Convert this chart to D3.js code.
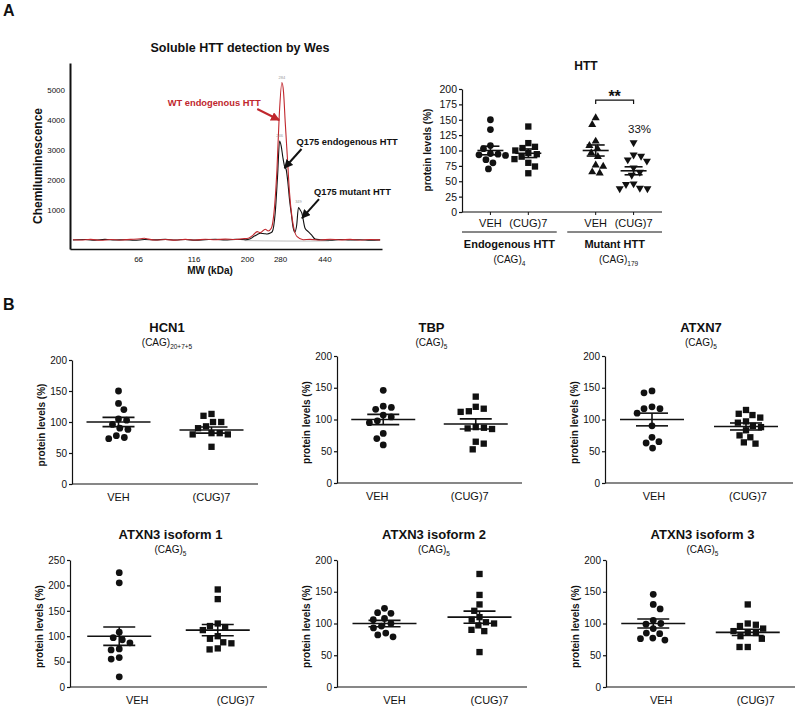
<!DOCTYPE html>
<html><head><meta charset="utf-8">
<script src="https://cdn.jsdelivr.net/npm/d3@7"></script>
<style>
body{margin:0;background:#fff}
text{font-family:"Liberation Sans",Arial,sans-serif;fill:#111}
</style>
</head><body>
<svg id="c" width="800" height="708"></svg>
<script>
// ---------------- DATA ----------------
// Panel A, Wes electropherogram (MW kDa, chemiluminescence)
const wesXTicks = [66, 116, 200, 280, 440];
const wesYTicks = [1000, 2000, 3000, 4000, 5000];
const wtTrace = [[34,10],[36.7,0],[40.7,20],[45,-10],[49.9,15],[55.2,0],[61,20],[67.6,40],[70.4,60],[73.3,30],[78.7,0],[87.1,15],[96.4,-5],[106.7,20],[118,0],[130.8,25],[144.8,10],[160.3,30],[177.5,15],[190.6,40],[202.6,60],[213.2,170],[221.9,280],[228.8,245],[240.8,360],[248.2,300],[256,390],[262,780],[271.2,2350],[277.6,4140],[285.2,5250],[290,4930],[295,3930],[301.9,2690],[308.2,1580],[315.8,780],[323,350],[333,110],[354,10],[380,20],[421,0],[466,25],[516,5],[571,20],[632,0],[700,15],[775,5]];
const q175Trace = [[34,0],[38.6,15],[42.6,-5],[47.1,20],[52.1,0],[57.6,10],[63.6,-10],[70.4,15],[78.7,5],[87.1,20],[96.4,0],[106.7,15],[118,-5],[130.8,10],[144.8,25],[160.3,0],[177.5,20],[197,10],[207,40],[213.2,110],[221.9,180],[228.8,225],[238.4,210],[245.6,200],[253.5,230],[258.7,280],[266.4,900],[272.9,2130],[278.6,3300],[283.2,3130],[288.1,2750],[292.9,2460],[297.9,2350],[303.2,1910],[308.2,1340],[313.6,900],[320,400],[324.9,260],[331.6,500],[337.6,1085],[343.4,1000],[349.3,900],[361,390],[372.9,280],[385.5,170],[400,30],[421,10],[466,-5],[516,15],[571,0],[632,10],[700,-5],[775,5]];
const wesBaseline = [[195,-20],[240,-30],[300,-35],[380,-35],[460,-30]];
const wesPeakLabels = [["284",285.2,5250],["246",278.6,3300],["349",337.6,1085]];
const wesAnnotations = [
  {text:"WT endogenous HTT", mw:277.6, v:4000, color:"#c0272d"},
  {text:"Q175 endogenous HTT", mw:292.9, v:2400, color:"#111"},
  {text:"Q175 mutant HTT", mw:350, v:730, color:"#111"}
];

// Panel A, HTT dot plot
const httGroups = ["Endogenous HTT", "Mutant HTT"];
const httGroupRepeats = ["4", "179"];
const httCategories = ["VEH", "(CUG)7"];
const httEndoVEH = [150, 134, 108, 103, 95, 94, 93, 92, 85, 80, 70];
const httEndoCUG = [139, 112, 106, 104, 100, 96, 94, 90, 86, 80, 74, 63];
const httMutVEH  = [153, 142, 115, 108, 103, 96, 90, 76, 74, 65, 63];
const httMutCUG  = [113, 93, 91, 85, 83, 72, 65, 60, 46, 45, 39, 38, 38];
const httMeans = [100, 95.5, 100, 67];
const httSEMs  = [7, 7, 9, 6.5];
const httYTicks = [0, 25, 50, 75, 100, 125, 150, 175, 200];

// Panel B
const bNames   = ["HCN1", "TBP", "ATXN7", "ATXN3 isoform 1", "ATXN3 isoform 2", "ATXN3 isoform 3"];
const bRepeats = ["20+7+5", "5", "5", "5", "5", "5"];
const bYMax    = [200, 200, 200, 250, 200, 200];
const bCategories = ["VEH", "(CUG)7"];
const hcn1VEH  = [150, 130, 120, 105, 103, 96, 90, 88, 78, 75, 73];
const hcn1CUG  = [113, 110, 100, 100, 93, 90, 82, 82, 80, 80, 60];
const tbpVEH   = [146, 121, 119, 116, 107, 104, 98, 95, 78, 70, 60];
const tbpCUG   = [136, 120, 117, 113, 112, 88, 87, 86, 85, 65, 62, 53];
const atxn7VEH = [145, 142, 120, 117, 117, 110, 90, 72, 65, 63, 55];
const atxn7CUG = [115, 109, 107, 103, 97, 95, 90, 88, 83, 75, 72, 64, 62];
const iso1VEH  = [225, 205, 108, 97, 93, 87, 75, 73, 58, 55, 20];
const iso1CUG  = [192, 173, 125, 120, 118, 112, 100, 95, 88, 86, 76, 74];
const iso2VEH  = [124, 117, 116, 108, 106, 100, 96, 93, 85, 82, 79];
const iso2CUG  = [178, 145, 130, 120, 110, 106, 102, 100, 97, 90, 88, 55];
const iso3VEH  = [146, 130, 123, 105, 100, 99, 92, 85, 84, 77, 76, 74];
const iso3CUG  = [130, 100, 98, 96, 92, 88, 86, 85, 80, 76, 63, 63];
const bMeans = [[100, 87], [100, 93], [100, 89], [100, 112], [100, 110], [100, 86]];
const bSEMs  = [[7.5, 5], [8, 8], [10, 5.5], [18, 11], [5, 9.5], [7, 5]];

// ---------------- DRAW ----------------
const svg = d3.select("#c");
const defs = svg.append("defs");
[["arrRed","#c0272d"],["arrBlk","#111"]].forEach(([id,c])=>{
  defs.append("marker").attr("id",id).attr("viewBox","0 0 10 10").attr("refX",9).attr("refY",5)
    .attr("markerWidth",9).attr("markerHeight",9).attr("markerUnits","userSpaceOnUse").attr("orient","auto")
    .append("path").attr("d","M0,0L10,5L0,10Z").attr("fill",c);
});

svg.append("text").attr("x",3).attr("y",16).style("font-size","16px").style("font-weight","bold").text("A");
svg.append("text").attr("x",3).attr("y",310).style("font-size","16px").style("font-weight","bold").text("B");

// ---- Wes chart ----
(function(){
  const x = d3.scaleLog().domain([33, 790]).range([70, 382]);
  const y = d3.scaleLinear().domain([-300, 5900]).range([249, 63]);
  const g = svg.append("g");
  g.append("text").attr("x",240).attr("y",52).attr("text-anchor","middle")
    .style("font-size","12.5px").style("font-weight","bold").text("Soluble HTT detection by Wes");
  const ya = g.append("g").attr("transform","translate(70,0)")
    .call(d3.axisLeft(y).tickValues(wesYTicks).tickFormat(d3.format("d")).tickSize(0).tickSizeOuter(0).tickPadding(5));
  ya.select(".domain").attr("stroke","#111").attr("stroke-width",2);
  ya.selectAll("text").style("font-size","8px").style("font-family","Liberation Sans, Arial").attr("fill","#222");
  const xa = g.append("g").attr("transform","translate(0,249)")
    .call(d3.axisBottom(x).tickValues(wesXTicks).tickFormat(d3.format("d")).tickSize(0).tickSizeOuter(0).tickPadding(7));
  xa.select(".domain").attr("stroke","#111").attr("stroke-width",1.5);
  xa.selectAll("text").style("font-size","8px").style("font-family","Liberation Sans, Arial").attr("fill","#222");
  g.append("text").attr("x",210).attr("y",274).attr("text-anchor","middle")
    .style("font-size","10px").style("font-weight","bold").text("MW (kDa)");
  g.append("text").attr("transform","translate(41.5,166) rotate(-90)").attr("text-anchor","middle")
    .style("font-size","12px").style("font-weight","bold").text("Chemiluminescence");

  const line = d3.line().x(d=>x(d[0])).y(d=>y(d[1])).curve(d3.curveMonotoneX);
  g.append("path").datum(wesBaseline).attr("d",line).attr("fill","none").attr("stroke","#aaa").attr("stroke-width",0.8);
  g.append("path").datum(q175Trace).attr("d",line).attr("fill","none").attr("stroke","#111").attr("stroke-width",1.1);
  g.append("path").datum(wtTrace).attr("d",line).attr("fill","none").attr("stroke","#c0272d").attr("stroke-width",1.1);
  wesPeakLabels.forEach(([t,mw,v])=>{
    g.append("text").attr("x",x(mw)).attr("y",y(v)-4).attr("text-anchor","middle")
      .style("font-size","4px").style("fill","#999").text(t);
  });
  const a0 = wesAnnotations[0];
  const tx0 = x(a0.mw), ty0 = y(a0.v);
  g.append("line").attr("x1",tx0-22).attr("y1",ty0-11).attr("x2",tx0).attr("y2",ty0)
    .attr("stroke",a0.color).attr("stroke-width",2).attr("marker-end","url(#arrRed)");
  g.append("text").attr("x",tx0-65).attr("y",ty0-14.5).attr("text-anchor","middle")
    .style("font-size","9.3px").style("font-weight","bold").style("fill",a0.color).text(a0.text);
  [wesAnnotations[1], wesAnnotations[2]].forEach(a=>{
    const tx = x(a.mw), ty = y(a.v);
    g.append("line").attr("x1",tx+17).attr("y1",ty-19).attr("x2",tx).attr("y2",ty)
      .attr("stroke",a.color).attr("stroke-width",2).attr("marker-end","url(#arrBlk)");
    g.append("text").attr("x",tx+12).attr("y",ty-23).style("font-size","9.3px").style("font-weight","bold").text(a.text);
  });
})();

// ---- helpers ----
function swarm(values, yS, D){
  const pts = values.map(v=>({v, y:yS(v)})).sort((a,b)=>b.v-a.v);
  const placed = [];
  pts.forEach((p,k)=>{
    const cands=[0];
    placed.forEach(q=>{
      const dy=Math.abs(q.y-p.y);
      if(dy<D){const dx=Math.sqrt(D*D-dy*dy); cands.push(q.x+dx+0.01, q.x-dx-0.01);}
    });
    const ok = cands.filter(c=>placed.every(q=>(q.x-c)**2+(q.y-p.y)**2 >= D*D-0.01));
    ok.sort((a,b)=>(Math.abs(a)-Math.abs(b)) || (k%2 ? a-b : b-a));
    p.x = ok[0];
    placed.push(p);
  });
  return placed;
}
const symbols = {
  circle: d3.symbol().type(d3.symbolCircle).size(36)(),
  square: d3.symbol().type(d3.symbolSquare).size(40)(),
  tri: d3.symbol().type(d3.symbolTriangle).size(28)()
};
function drawGroup(g, values, cx, yS, shape, mean, sem, mw, cw, D, rot){
  swarm(values, yS, D).forEach(p=>{
    g.append("path").attr("d", symbols[shape])
      .attr("transform",`translate(${cx+p.x},${p.y})${rot?" rotate(180)":""}`).attr("fill","#111");
  });
  const ln = (x1,y1,x2,y2)=>g.append("line").attr("x1",x1).attr("y1",y1).attr("x2",x2).attr("y2",y2)
    .attr("stroke","#111").attr("stroke-width",1.6);
  ln(cx-mw, yS(mean), cx+mw, yS(mean));
  ln(cx, yS(mean-sem), cx, yS(mean+sem));
  ln(cx-cw, yS(mean-sem), cx+cw, yS(mean-sem));
  ln(cx-cw, yS(mean+sem), cx+cw, yS(mean+sem));
}
function sub(textSel, main, subTxt, fs){
  textSel.text(null);
  textSel.append("tspan").text(main);
  textSel.append("tspan").attr("dy",3).style("font-size",fs+"px").text(subTxt);
}

// ---- HTT chart ----
(function(){
  const g = svg.append("g");
  const y = d3.scaleLinear().domain([0,200]).range([212,89]);
  const gx = d3.scaleBand().domain(httGroups).range([462,662]).paddingInner(0.1);
  const ix = d3.scalePoint().domain(httCategories).range([0,gx.bandwidth()]).padding(0.75);
  g.append("text").attr("x",586).attr("y",70).attr("text-anchor","middle")
    .style("font-size","12px").style("font-weight","bold").text("HTT");
  const ya = g.append("g").attr("transform","translate(462,0)")
    .call(d3.axisLeft(y).tickValues(httYTicks).tickSize(3).tickSizeOuter(0).tickPadding(2));
  ya.selectAll("path,line").attr("stroke","#111").attr("stroke-width",1.2);
  ya.selectAll("text").style("font-size","10.5px").style("font-family","Liberation Sans, Arial").attr("fill","#222");
  g.append("line").attr("x1",462).attr("x2",662).attr("y1",212).attr("y2",212).attr("stroke","#111").attr("stroke-width",1.2);
  g.append("text").attr("transform","translate(431,150) rotate(-90)").attr("text-anchor","middle")
    .style("font-size","10px").style("font-weight","bold").text("protein levels (%)");
  const sets = [[httEndoVEH,"circle",false],[httEndoCUG,"square",false],[httMutVEH,"tri",false],[httMutCUG,"tri",true]];
  let k=0;
  httGroups.forEach((grp,gi)=>{
    httCategories.forEach((cat,ci)=>{
      const cx = gx(grp)+ix(cat);
      const [vals,shape,rot] = sets[k];
      drawGroup(g, vals, cx, y, shape, httMeans[k], httSEMs[k], 13, 9, 7.6, rot);
      g.append("line").attr("x1",cx).attr("x2",cx).attr("y1",212).attr("y2",215).attr("stroke","#111");
      g.append("text").attr("x",cx).attr("y",227).attr("text-anchor","middle").style("font-size","11px").text(cat);
      k++;
    });
    const x0 = gx(grp), x1 = gx(grp)+gx.bandwidth();
    g.append("line").attr("x1",x0).attr("x2",x1).attr("y1",232).attr("y2",232).attr("stroke","#111").attr("stroke-width",1);
    g.append("text").attr("x",(x0+x1)/2).attr("y",247.5).attr("text-anchor","middle")
      .style("font-size","11px").style("font-weight","bold").text(grp);
    sub(g.append("text").attr("x",(x0+x1)/2+ (gi?4:0)).attr("y",263).attr("text-anchor","middle").style("font-size","10px"),
      "(CAG)", httGroupRepeats[gi], 6.5);
  });
  const xa = gx(httGroups[1])+ix(httCategories[0]), xb = gx(httGroups[1])+ix(httCategories[1]);
  const yb = y(182);
  g.append("path").attr("d",`M${xa},${yb+4}V${yb}H${xb}V${yb+4}`).attr("fill","none").attr("stroke","#111").attr("stroke-width",1.2);
  g.append("text").attr("x",(xa+xb)/2).attr("y",yb+2).attr("text-anchor","middle")
    .style("font-size","16px").style("font-weight","bold").text("**");
  g.append("text").attr("x",xb+6).attr("y",y(129)).attr("text-anchor","middle").style("font-size","11.5px").text("33%");
})();

// ---- Panel B ----
const bData = [[hcn1VEH,hcn1CUG],[tbpVEH,tbpCUG],[atxn7VEH,atxn7CUG],[iso1VEH,iso1CUG],[iso2VEH,iso2CUG],[iso3VEH,iso3CUG]];
const bLayout = [
  {x0:72, x1:258, top:360, bot:484, tY:331.5, sY:345.5, ldx:0},
  {x0:337, x1:522, top:356, bot:483, tY:331.5, sY:345.5, ldx:-6},
  {x0:605, x1:793, top:356, bot:483, tY:331.5, sY:345.5, ldx:2},
  {x0:70, x1:267, top:560, bot:687, tY:538.5, sY:552.5, ldx:18},
  {x0:337, x1:527, top:560, bot:687, tY:538.5, sY:552.5, ldx:10},
  {x0:606, x1:795, top:560, bot:687, tY:538.5, sY:552.5, ldx:8}
];
bNames.forEach((name,i)=>{
  const L = bLayout[i];
  const g = svg.append("g");
  const y = d3.scaleLinear().domain([0,bYMax[i]]).range([L.bot,L.top]);
  const x = d3.scalePoint().domain(bCategories).range([L.x0,L.x1]).padding(0.5);
  const mid = (L.x0+L.x1)/2+2;
  g.append("text").attr("x",mid).attr("y",L.tY).attr("text-anchor","middle")
    .style("font-size","13px").style("font-weight","bold").text(name);
  sub(g.append("text").attr("x",mid).attr("y",L.sY).attr("text-anchor","middle").style("font-size","10px"),
    "(CAG)", bRepeats[i], 6.5);
  const ya = g.append("g").attr("transform",`translate(${L.x0},0)`)
    .call(d3.axisLeft(y).tickValues(d3.range(0,bYMax[i]+1,50)).tickSize(3).tickSizeOuter(0).tickPadding(2));
  ya.selectAll("path,line").attr("stroke","#111").attr("stroke-width",1.2);
  ya.selectAll("text").style("font-size","10px").style("font-family","Liberation Sans, Arial").attr("fill","#222");
  g.append("line").attr("x1",L.x0).attr("x2",L.x1).attr("y1",L.bot).attr("y2",L.bot).attr("stroke","#111").attr("stroke-width",1.2);
  g.append("text").attr("transform",`translate(${L.x0-27},${(L.top+L.bot)/2+3}) rotate(-90)`).attr("text-anchor","middle")
    .style("font-size","10px").style("font-weight","bold").text("protein levels (%)");
  bCategories.forEach((cat,ci)=>{
    drawGroup(g, bData[i][ci], x(cat), y, ci?"square":"circle", bMeans[i][ci], bSEMs[i][ci], 32, 16, 8.2, false);
    g.append("text").attr("x",x(cat)+L.ldx).attr("y",L.bot+17).attr("text-anchor","middle").style("font-size","11px").text(cat);
  });
});
</script>
</body></html>
